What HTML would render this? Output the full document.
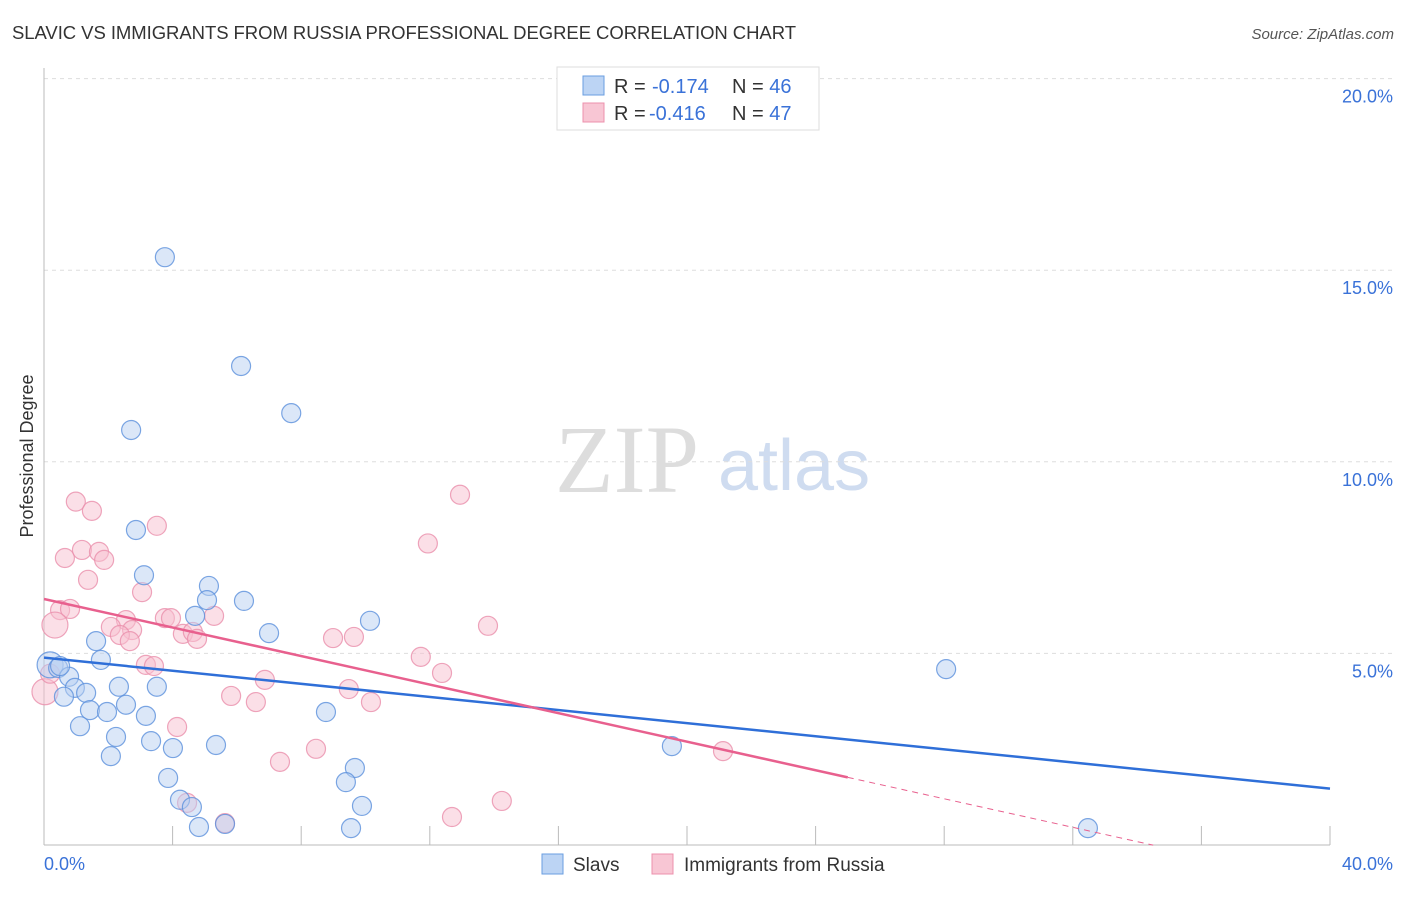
<!DOCTYPE html>
<html><head><meta charset="utf-8"><style>
body{margin:0;background:#fff;font-family:"Liberation Sans",sans-serif;}
</style></head><body>
<svg width="1406" height="892" xmlns="http://www.w3.org/2000/svg">
<text x="12" y="39" font-size="18.5" fill="#333" textLength="784">SLAVIC VS IMMIGRANTS FROM RUSSIA PROFESSIONAL DEGREE CORRELATION CHART</text>
<text x="1394" y="39" font-size="15" fill="#555" font-style="italic" text-anchor="end">Source: ZipAtlas.com</text>
<text x="555" y="492" font-size="96" fill="#ddd" font-family="Liberation Serif,serif">ZIP</text>
<text x="718" y="490" font-size="72" fill="#cfdcf0">atlas</text>
<g id="grid"></g>
<line x1="44" y1="68" x2="44" y2="845" stroke="#bbb"/>
<line x1="44" y1="845" x2="1330" y2="845" stroke="#bbb"/>
<text transform="translate(33,456) rotate(-90)" font-size="18" fill="#333" text-anchor="middle">Professional Degree</text>
<g id="pts"></g>
<g id="lines"></g>
<g>
<rect x="557" y="67" width="262" height="63" fill="#fff" stroke="#ddd"/>
<rect x="583" y="76" width="21" height="19" fill="#bcd4f4" stroke="#6a9ee0"/>
<rect x="583" y="103" width="21" height="19" fill="#f8c6d4" stroke="#ec90ac"/>
<text x="614" y="93" font-size="20" fill="#333">R = <tspan x="652" fill="#3a72d8">-0.174</tspan><tspan x="732">N = </tspan><tspan fill="#3a72d8">46</tspan></text>
<text x="614" y="120" font-size="20" fill="#333">R = <tspan x="649" fill="#3a72d8">-0.416</tspan><tspan x="732">N = </tspan><tspan fill="#3a72d8">47</tspan></text>
</g>
<g>
<rect x="542" y="854" width="21" height="20" fill="#bcd4f4" stroke="#6a9ee0"/>
<text x="573" y="871" font-size="19" fill="#333">Slavs</text>
<rect x="652" y="854" width="21" height="20" fill="#f8c6d4" stroke="#ec90ac"/>
<text x="684" y="871" font-size="19" fill="#333">Immigrants from Russia</text>
</g>
<text x="44" y="870" font-size="18" fill="#3a72d8">0.0%</text>
<text x="1393" y="870" font-size="18" fill="#3a72d8" text-anchor="end">40.0%</text>
</svg>
<script>
const yTicks=[5,10,15,20];
const xTicks=[0,4,8,12,16,20,24,28,32,36,40];
const slavX=[3.76,6.13,7.69,2.71,2.86,3.11,5.13,6.22,5.07,4.70,10.14,7.00,1.62,1.77,28.06,0.19,0.44,0.78,0.96,1.31,0.62,2.33,3.51,2.55,1.43,1.96,3.17,8.77,1.12,2.24,3.33,4.01,5.35,19.53,2.08,9.67,3.86,9.39,4.23,4.60,9.89,4.82,9.55,32.47,5.63,0.50];
const slavY=[15.34,12.50,11.27,10.83,8.22,7.04,6.76,6.37,6.39,5.98,5.85,5.53,5.32,4.83,4.59,4.70,4.62,4.39,4.10,3.97,3.87,4.13,4.13,3.66,3.52,3.47,3.37,3.47,3.10,2.82,2.71,2.53,2.61,2.58,2.32,2.01,1.75,1.64,1.18,0.99,1.02,0.47,0.44,0.44,0.55,4.67];
const rusX=[0.99,1.49,3.51,12.94,0.65,1.18,1.71,1.87,11.94,1.37,3.05,0.50,0.81,0.34,2.55,2.08,2.74,2.36,2.67,3.76,3.95,4.32,4.63,5.29,4.76,8.99,9.64,13.81,3.17,3.42,11.72,12.38,6.87,9.48,5.82,6.59,10.17,4.14,8.46,21.12,7.34,4.45,14.24,12.69,5.63,0.03,0.19];
const rusY=[8.96,8.72,8.33,9.14,7.49,7.70,7.65,7.44,7.87,6.92,6.60,6.13,6.16,5.74,5.87,5.69,5.61,5.48,5.32,5.92,5.92,5.51,5.56,5.98,5.38,5.40,5.43,5.72,4.70,4.67,4.91,4.49,4.31,4.07,3.89,3.73,3.73,3.08,2.51,2.45,2.17,1.10,1.15,0.73,0.57,4.00,4.47];
const bigBlue=[15], bigRus=[13,45];
const X=v=>44+v/40*1286, Y=v=>845-v/5*191.6;
const NS="http://www.w3.org/2000/svg";
const grid=document.getElementById('grid');
yTicks.forEach(t=>{
 const l=document.createElementNS(NS,'line');
 
 
 l.setAttribute('x1',44);l.setAttribute('x2',1394);l.setAttribute('y1',Y(t));l.setAttribute('y2',Y(t));
 l.setAttribute('stroke','#ddd');l.setAttribute('stroke-dasharray','4,4');grid.appendChild(l);
 const tx=document.createElementNS(NS,'text');
 
 
 tx.setAttribute('x',1393);tx.setAttribute('y',Y(t)+24);tx.setAttribute('text-anchor','end');
 tx.setAttribute('font-size','18');tx.setAttribute('fill','#3a72d8');tx.textContent=t.toFixed(1)+'%';grid.appendChild(tx);
});
xTicks.forEach(t=>{
 const l=document.createElementNS(NS,'line');
 
 
 l.setAttribute('x1',X(t));l.setAttribute('x2',X(t));l.setAttribute('y1',826);l.setAttribute('y2',845);
 l.setAttribute('stroke','#bbb');grid.appendChild(l);
});
const pts=document.getElementById('pts');
function dot(x,y,r,fill,stroke,name){
 const c=document.createElementNS(NS,'circle');
 
 
 c.setAttribute('cx',X(x));c.setAttribute('cy',Y(y));c.setAttribute('r',r);
 c.setAttribute('fill',fill);c.setAttribute('fill-opacity','0.5');c.setAttribute('stroke',stroke);c.setAttribute('stroke-opacity','0.8');c.setAttribute('stroke-width','1.2');
 pts.appendChild(c);
}
rusX.forEach((x,i)=>dot(x,rusY[i],bigRus.includes(i)?13:9.5,'#f8c0d0','#ea8fab','russia-point'));
slavX.forEach((x,i)=>dot(x,slavY[i],bigBlue.includes(i)?13:9.5,'#b8d0f2','#5b90dc','slavs-point'));
const lines=document.getElementById('lines');
function ln(x1,y1,x2,y2,col,dash,name){
 const l=document.createElementNS(NS,'line');
 
 
 l.setAttribute('x1',X(x1));l.setAttribute('y1',Y(y1));l.setAttribute('x2',X(x2));l.setAttribute('y2',Y(y2));
 l.setAttribute('stroke',col);l.setAttribute('stroke-width',dash?1:2.5);if(dash)l.setAttribute('stroke-dasharray','6,5');
 lines.appendChild(l);
}
const bA=4.89,bB=-0.0855,rA=6.42,rB=-0.1862;
ln(0,bA,40,bA+bB*40,'#2f6fd8',false,'slavs-trend-line');
ln(0,rA,25,rA+rB*25,'#e8608e',false,'russia-trend-line');
ln(25,rA+rB*25,34.5,rA+rB*34.5,'#e8608e',true,'russia-trend-extension');
</script>
</body></html>
